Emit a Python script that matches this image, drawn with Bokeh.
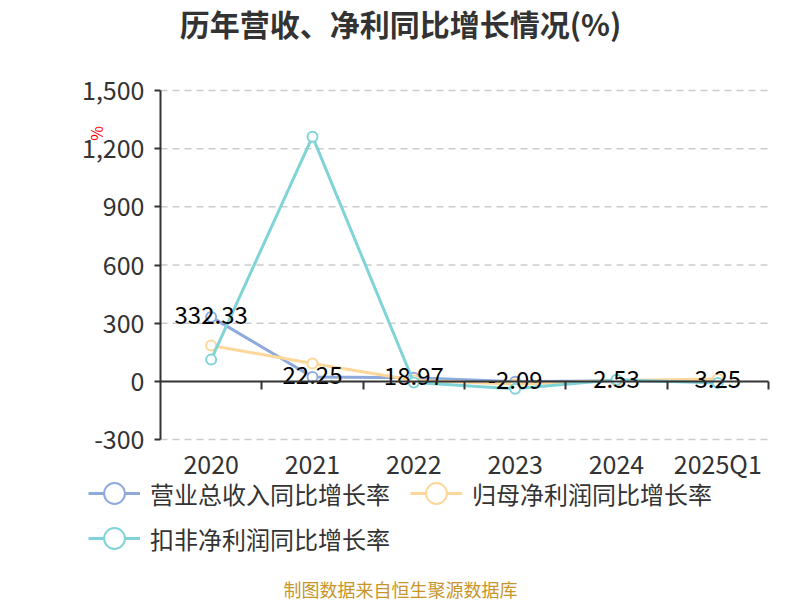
import math
from bokeh.plotting import figure
from bokeh.models import (Range1d, LinearAxis, FixedTicker, NumeralTickFormatter,
                          Legend, LegendItem, Label, ColumnDataSource)
from bokeh.embed import file_html
from bokeh.resources import INLINE
from bokeh.core.properties import value

# ---- data ----
categories = ["2020", "2021", "2022", "2023", "2024", "2025Q1"]
revenue_growth = [332.33, 22.25, 18.97, -2.09, 2.53, 3.25]
net_profit_growth = [185.0, 92.0, 6.0, -15.0, 4.0, 12.0]
deducted_profit_growth = [112.0, 1262.0, -6.0, -38.0, 8.0, -8.0]
y_ticks = [-300, 0, 300, 600, 900, 1200, 1500]
series_names = ["营业总收入同比增长率", "归母净利润同比增长率", "扣非净利润同比增长率"]
title_text = "历年营收、净利同比增长情况(%)"
footer_text = "制图数据来自恒生聚源数据库"
y_unit = "%"

colors = ["#8eaadc", "#fdd79a", "#80d4d8"]
FONT = "Noto Sans CJK SC"
TXT = "#333333"

# ---- layout (pixels) ----
W, H = 800, 600
PL, PR, PT, PB = 160, 768, 90, 439   # plot area edges in canvas pixels
n = len(categories)
ymin, ymax = y_ticks[0], y_ticks[-1]
xpx = (PR - PL) / n
ypx = (PB - PT) / (ymax - ymin)
x_range = Range1d(-PL / xpx, n + (W - PR) / xpx)
y_range = Range1d(ymin - (H - PB) / ypx, ymax + PT / ypx)

xs = [i + 0.5 for i in range(n)]

p = figure(width=W, height=H, output_backend="svg", toolbar_location=None,
           x_range=x_range, y_range=y_range, x_axis_type=None, y_axis_type=None,
           min_border=0)
p.outline_line_color = None

# dashed horizontal grid lines spanning only the plot area
grid_vals = [t for t in y_ticks if t != 0]
p.segment(x0=[0] * len(grid_vals), y0=grid_vals, x1=[n] * len(grid_vals), y1=grid_vals,
          line_color="#cccccc", line_width=1.5, line_dash="7 5")

# y axis, fixed at x=0
yax = LinearAxis(ticker=FixedTicker(ticks=y_ticks), formatter=NumeralTickFormatter(format="0,0"),
                 fixed_location=0, bounds=(ymin, ymax))
yax.axis_line_color = TXT
yax.axis_line_width = 2
yax.major_tick_line_color = TXT
yax.major_tick_line_width = 2
yax.major_tick_out = 6
yax.major_tick_in = 0
yax.minor_tick_line_color = None
yax.major_label_text_font = FONT
yax.major_label_text_font_size = "25px"
yax.major_label_text_color = TXT
yax.major_label_standoff = 10
p.add_layout(yax, "left")

# zero line with ticks at category boundaries
zax = LinearAxis(ticker=FixedTicker(ticks=list(range(1, n + 1))), fixed_location=0, bounds=(0, n))
zax.axis_line_color = TXT
zax.axis_line_width = 2
zax.major_tick_line_color = TXT
zax.major_tick_line_width = 2
zax.major_tick_out = 8
zax.major_tick_in = 0
zax.minor_tick_line_color = None
zax.major_label_text_font_size = "0px"
zax.major_label_text_alpha = 0
p.add_layout(zax, "below")

# category labels under the plot area
xax = LinearAxis(ticker=FixedTicker(ticks=xs), fixed_location=ymin, bounds=(0, n),
                 major_label_overrides={x: c for x, c in zip(xs, categories)})
xax.axis_line_color = None
xax.major_tick_line_color = None
xax.major_tick_out = 0
xax.major_tick_in = 0
xax.minor_tick_line_color = None
xax.major_label_text_font = FONT
xax.major_label_text_font_size = "25px"
xax.major_label_text_color = TXT
xax.major_label_standoff = 5
p.add_layout(xax, "below")

renderers = []
for vals, col in zip([revenue_growth, net_profit_growth, deducted_profit_growth], colors):
    src = ColumnDataSource(dict(x=xs, y=vals))
    ln = p.line("x", "y", source=src, line_color=col, line_width=3)
    sc = p.scatter("x", "y", source=src, marker="circle", size=10, fill_color="white",
                   line_color=col, line_width=2)
    renderers.append([ln, sc])

# data labels for revenue
lab_src = ColumnDataSource(dict(x=xs, y=revenue_growth, t=["%.2f" % v for v in revenue_growth]))
p.text("x", "y", text="t", source=lab_src, text_align="center", text_baseline="middle",
       text_font=value(FONT), text_font_size="24px", text_color="black", y_offset=-2)

# legends (one per item, laid out in two rows)
legend_pos = [(88, 81), (410, 81), (88, 36)]
for name, rs, loc in zip(series_names, renderers, legend_pos):
    lg = Legend(items=[LegendItem(label=name, renderers=rs)], location=loc)
    lg.label_text_font = FONT
    lg.label_text_font_size = "24px"
    lg.label_text_color = TXT
    lg.glyph_width = 52
    lg.glyph_height = 52
    lg.label_standoff = 10
    lg.padding = 0
    lg.margin = 0
    lg.spacing = 0
    lg.border_line_color = None
    lg.background_fill_alpha = 0
    p.add_layout(lg, "center")

# title, unit, footer
p.add_layout(Label(x=400, y=H - 22, x_units="screen", y_units="screen", text=title_text,
                   text_align="center", text_baseline="middle", text_font=FONT,
                   text_font_size="30px", text_font_style="bold", text_color=TXT))
p.add_layout(Label(x=95, y=H - 133, x_units="screen", y_units="screen", text=y_unit,
                   text_align="center", text_baseline="middle", text_font=FONT,
                   text_font_size="16px", text_color="red", angle=math.pi / 2))
p.add_layout(Label(x=400, y=H - 588, x_units="screen", y_units="screen", text=footer_text,
                   text_align="center", text_baseline="middle", text_font=FONT,
                   text_font_size="18px", text_color="#c8952a"))

open("out.html", "w").write(file_html(p, INLINE))
